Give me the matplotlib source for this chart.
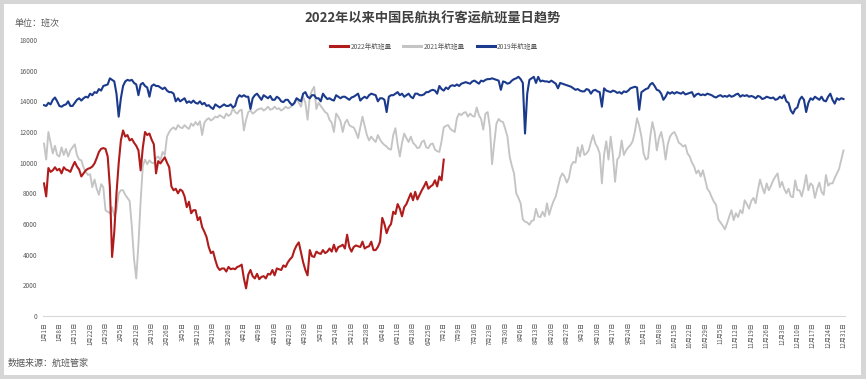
import matplotlib
matplotlib.use("Agg")
import matplotlib.pyplot as plt
from matplotlib.patches import Rectangle
from matplotlib.lines import Line2D

plt.rcParams['font.family'] = ['Noto Sans CJK SC', 'DejaVu Sans']

title = "2022年以来中国民航执行客运航班量日趋势"
series_names = ["2022年航班量", "2021年航班量", "2019年航班量"]

tick_labels = [
    "1月1日", "1月8日", "1月15日", "1月22日", "1月29日", "2月5日", "2月12日", "2月19日", "2月26日",
    "3月5日", "3月12日", "3月19日", "3月26日", "4月2日", "4月9日", "4月16日", "4月23日", "4月30日",
    "5月7日", "5月14日", "5月21日", "5月28日", "6月4日", "6月11日", "6月18日", "6月25日",
    "7月2日", "7月9日", "7月16日", "7月23日", "7月30日", "8月6日", "8月13日", "8月20日", "8月27日",
    "9月3日", "9月10日", "9月17日", "9月24日", "10月1日", "10月8日", "10月15日", "10月22日", "10月29日",
    "11月5日", "11月12日", "11月19日", "11月26日", "12月3日", "12月10日", "12月17日", "12月24日", "12月31日",
]

flights_2019 = [
    13750, 13700, 13900, 13800, 14100, 14250, 14000,
    13700, 13650, 13750, 13800, 14000, 13700, 13700,
    13900, 14100, 14200, 14050, 14200, 14300, 14250,
    14500, 14400, 14600, 14550, 14800, 14700, 15000,
    15050, 15100, 15500, 15400, 15300, 14500, 13000,
    14200, 15000, 15300, 15400, 15350, 15400, 15200,
    15100, 14400, 15100, 15200, 15000, 14900, 14300,
    15000, 15100, 15000, 15000, 14900, 14800, 14900,
    14700, 14600, 14600, 14500, 14000, 14200, 14000,
    14100, 14200, 13900, 14000, 13900, 14050, 13900,
    13850, 14000, 13800, 13900, 13700, 13750, 13600,
    13500, 13800, 13700, 13600, 13700, 13800, 13700,
    13700, 13800, 13600, 13700, 14200, 14400, 14300,
    14400, 14300, 14300, 13500, 14200, 14400, 14500,
    14300, 14100, 14400, 14300, 14200, 14350, 14100,
    14100, 14300, 14200, 14000, 13950, 14100, 14100,
    13900, 13750, 13900, 14200, 14100, 14000, 14500,
    14600, 14300, 14200, 14400, 14400, 14200, 14200,
    14000, 14500, 14300, 14150, 14200, 14100, 14050,
    14400, 14300, 14200, 14300, 14300, 14200, 14100,
    14250, 14300, 14400, 14500, 14050, 14200, 14300,
    14200, 14400, 14500, 14450, 14400, 14000, 14200,
    14200, 14100, 13300, 14300, 14400, 14400, 14500,
    14600, 14400, 14500, 14300, 14400, 14500, 14300,
    14200, 14500, 14500, 14400, 14400, 14450, 14600,
    14600, 14700, 14750, 14700, 14500, 15000, 14800,
    14700, 14900, 14800, 15000, 15050, 15000, 15100,
    15000, 15150, 15200, 15250, 15200, 15150, 15300,
    15350, 15250, 15150, 15350, 15300, 15400, 15450,
    15450, 15500, 15450, 15400, 15350, 14750, 15300,
    15250, 15150, 15200, 15350, 15450, 15500, 15600,
    15450, 15200, 11900, 14500, 15400, 15500, 15600,
    15200, 15600, 15300, 15350, 15300, 15300, 15250,
    15350, 15250, 15150, 14850, 15200, 15150, 15100,
    15050, 15000, 14950, 14850, 14750, 14800, 14700,
    14650, 14650, 14800, 14750, 14500, 14700, 14750,
    14650, 14600, 13650, 14850, 14700, 14650, 14600,
    14700, 14650, 14550, 14600, 14500, 14650, 14600,
    14700, 14850, 14900, 14950, 14900, 13450, 14600,
    14700, 14800, 14850, 15100, 15200, 15000, 14750,
    14700, 14500, 14100, 14300, 14600, 14500, 14600,
    14500, 14600, 14550, 14500, 14600, 14450, 14500,
    14550, 14600, 14300, 14450, 14500, 14400, 14450,
    14400, 14500, 14450, 14400, 14300, 14250, 14350,
    14400, 14300, 14350, 14300, 14400, 14300, 14350,
    14450, 14500, 14300, 14400, 14350, 14400, 14300,
    14350, 14300, 14200, 14350, 14300, 14150, 14200,
    14300, 14250, 14200, 14250, 14100, 14150, 14300,
    14200, 14400, 14000, 13900, 13400, 13200, 13500,
    13600, 14100, 14300, 14100, 13300, 13900, 14200,
    14100, 14300, 14200, 14100, 14300, 14050, 14000,
    14300, 14500, 14100, 13850, 14200, 14100, 14200,
    14150,
]

flights_2021 = [
    11250, 10200, 12000, 11300, 10600, 11100, 10500,
    10400, 11000, 10500, 10900, 10400, 10800, 11000,
    11200, 10500, 10200, 10150, 9700, 9400, 9200,
    9250, 8400, 8900, 8300, 7900, 8600, 8400,
    6900, 6800, 6700, 7100, 6500, 6900, 8000,
    8200, 8200, 7900, 7700, 7500, 5800, 3700,
    2450, 4700, 7500, 9800, 10200, 9900, 10150,
    10000, 9950, 10300, 10400, 10150, 10700, 10500,
    11700, 12000, 12200, 12300, 12150, 12450, 12300,
    12250, 12450, 12300, 12200, 12550, 12400, 12650,
    12450, 12700, 11800, 12600, 12800, 12900, 12750,
    12850, 13000, 12950, 13100, 13000, 12900, 13200,
    13050, 13150, 13550, 13300, 13200, 13400, 13450,
    12100, 12800, 13300, 13400, 13200, 13300, 13450,
    13500, 13550, 13400, 13500, 13650, 13450, 13500,
    13650, 13500, 13550, 13400, 13500, 13650, 13550,
    13600, 13750, 13850, 14200, 13900, 13650, 14300,
    13900, 12800, 14300, 14700, 14950, 13500, 13900,
    13700, 13500, 13300, 13200, 12800, 12600, 12000,
    13200, 13000, 12700, 12000, 12600, 12800, 12450,
    12350, 12300, 12000, 11600, 12300, 13000, 12400,
    11800, 11450, 11700, 11500, 11350, 11800, 11500,
    11300, 11150, 11050, 10900, 10850, 11800, 12250,
    11200, 10400, 11300, 11900, 11600, 11350, 11700,
    11300, 11150, 10950, 11000, 11350, 11450, 11000,
    10950, 11200, 11250, 10850, 10750, 10700, 11400,
    12300, 12400, 12450, 12200, 12100, 12000, 12900,
    13200, 13100, 13250, 13300, 13000, 13200, 13050,
    13000, 13600, 13100, 12850, 12150, 13200, 13300,
    12300, 9900, 11300, 12550, 12850, 12700, 12650,
    12200, 11700, 10400, 9800, 9300, 8000, 7700,
    7350, 6300, 6150, 6100, 5950, 6200, 6250,
    7000, 6500, 6450, 6800, 6500, 7350, 6600,
    7100, 7500, 7800, 8400, 9000, 9300, 9100,
    8700, 9000, 9800, 10050, 10000, 11000, 10400,
    11150, 10500, 10600, 10800, 11350, 11800, 11250,
    11000, 10600, 8650, 10550, 11400, 10200, 11700,
    10500, 8750, 10200, 10400, 11450, 10500, 10800,
    11000, 11150, 11400, 12000, 12900, 12400, 11700,
    10600, 10200, 10300, 11700, 12650, 12000, 10800,
    11600, 12000, 11300, 10200, 11200, 11700, 11900,
    12000, 11700, 11300, 11200, 11050, 11150, 10600,
    10400, 10000, 9750, 9300, 9500, 9100, 9500,
    8900, 8300, 8100, 7750, 7450, 7250, 6300,
    6100, 5900, 5650, 6050, 6500, 6900, 6250,
    6700, 6450, 6900, 6700, 7550, 7300, 7000,
    7500, 7700, 7350, 8200, 8900, 8400, 8000,
    8650, 8200, 8500, 8850, 9100, 9300, 8400,
    8750, 8300, 8000, 8300, 7800, 7750, 8850,
    8200, 8200, 7800, 8400, 9200, 8200, 8650,
    8500, 7700, 8300, 8700, 8100, 7900, 9200,
    8500, 8650, 8650, 9000, 9300, 9600, 10200,
    10800,
]

flights_2022 = [
    8650, 7800, 9650, 9400, 9500, 9700, 9500,
    9600, 9300, 9700, 9550, 9500, 9400, 9750,
    10050, 9750, 9550, 9100, 9300, 9500, 9600,
    9650, 9750, 9950, 10300, 10700, 10900, 10950,
    10900, 10400, 8400, 3850, 5500, 8000, 9950,
    11450, 12100, 11700, 11800, 11450, 11550, 11300,
    11100, 10800, 9500, 11000, 12000, 11800, 11900,
    11500, 11200, 9300, 10100, 9950, 10150, 10350,
    10000, 9700, 8450, 8200, 8300, 8000, 8250,
    8150, 7800, 7100, 7450, 6700, 6900, 6900,
    6250, 6450, 5800, 5500, 5150, 4500, 4100,
    4200, 3650, 3200, 3000, 3100, 3100, 2900,
    3200, 3050, 3100, 3050, 3200, 3250, 3350,
    2450, 1800, 2700, 3000, 2600, 2450, 2750,
    2400, 2550, 2600, 2450, 2750, 2700, 3000,
    2650, 3100, 3050, 3000, 3300, 3200, 3500,
    3700, 3850, 4300, 4600, 4800, 4150, 3500,
    3000, 2650, 4300, 3900, 3850, 4200, 4100,
    4050, 4300, 4100, 4200, 4400, 4200, 4650,
    4200, 4500, 4550, 4650, 4400, 5300, 4500,
    4200, 4500, 4600, 4550, 4500, 4850, 4400,
    4500, 4550, 4850, 4300, 4300, 4500, 4850,
    6400, 6000, 5400, 5800, 6000, 6800, 6650,
    7300, 7000, 6500, 7100, 7300, 7650, 8000,
    7550, 8100, 7600, 7900, 8200, 8450, 8750,
    8300, 8450, 8550, 8850, 8450, 9100, 8850,
    10200,
]

y_ticks = list(range(0, 18001, 2000))

W, H = 866, 379
fig = plt.figure(figsize=(W / 100, H / 100), dpi=100)
fig.patch.set_facecolor('#d6d6d6')
fig.add_artist(Rectangle((4 / W, 1 - 375 / H), (861 - 4) / W, (375 - 4) / H,
                         transform=fig.transFigure, facecolor='white',
                         edgecolor='none', zorder=0))

left, right = 42.9 / W, 844.6 / W
bottom, top = 1 - 316 / H, 1 - 40 / H
ax = fig.add_axes([left, bottom, right - left, top - bottom])
ax.set_facecolor('none')

c22, c21, c19 = '#B01C1C', '#C4C4C4', '#1B3A8C'
days19 = list(range(len(flights_2019)))
days21 = list(range(len(flights_2021)))
days22 = list(range(len(flights_2022)))
l21, = ax.plot(days21, flights_2021, color=c21, lw=1.35, zorder=2, solid_joinstyle='round')
l19, = ax.plot(days19, flights_2019, color=c19, lw=1.5, zorder=3, solid_joinstyle='round')
l22, = ax.plot(days22, flights_2022, color=c22, lw=1.5, zorder=4, solid_joinstyle='round')

ax.set_xlim(-0.5, 364.5)
ax.set_ylim(0, 18000)
for s in ['top', 'right', 'left']:
    ax.spines[s].set_visible(False)
ax.spines['bottom'].set_color('#d9d9d9')
ax.spines['bottom'].set_linewidth(0.8)

ax.set_yticks(y_ticks)
ax.set_yticklabels([str(v) for v in y_ticks])
ax.set_xticks(list(range(0, 365, 7)))
ax.set_xticklabels(tick_labels, rotation=90)
ax.tick_params(axis='y', length=0, pad=4.0, labelsize=4.6, labelcolor='#595959')
ax.tick_params(axis='x', length=0, pad=4.3, labelsize=4.4, labelcolor='#595959')

fig.text(0.5, 1 - 19 / H, title, ha='center', va='center', fontsize=9.5,
         fontweight='bold', color='#404040')
fig.text(14 / W, 1 - 23 / H, "单位：班次", ha='left', va='center', fontsize=6.5,
         color='#595959')
fig.text(8 / W, 1 - 363 / H, "数据来源：航班管家", ha='left', va='center', fontsize=6.5,
         color='#595959')

handles = [Line2D([0], [0], color=c22, lw=2.2),
           Line2D([0], [0], color=c21, lw=2.2),
           Line2D([0], [0], color=c19, lw=2.2)]
fig.legend(handles, series_names, loc='center', bbox_to_anchor=(434 / W, 1 - 46.5 / H),
           ncol=3, frameon=False, fontsize=4.8, handlelength=2.7, handletextpad=0.3,
           columnspacing=1.8, labelcolor='#595959')

fig.savefig('out.png', dpi=100, facecolor=fig.get_facecolor())
